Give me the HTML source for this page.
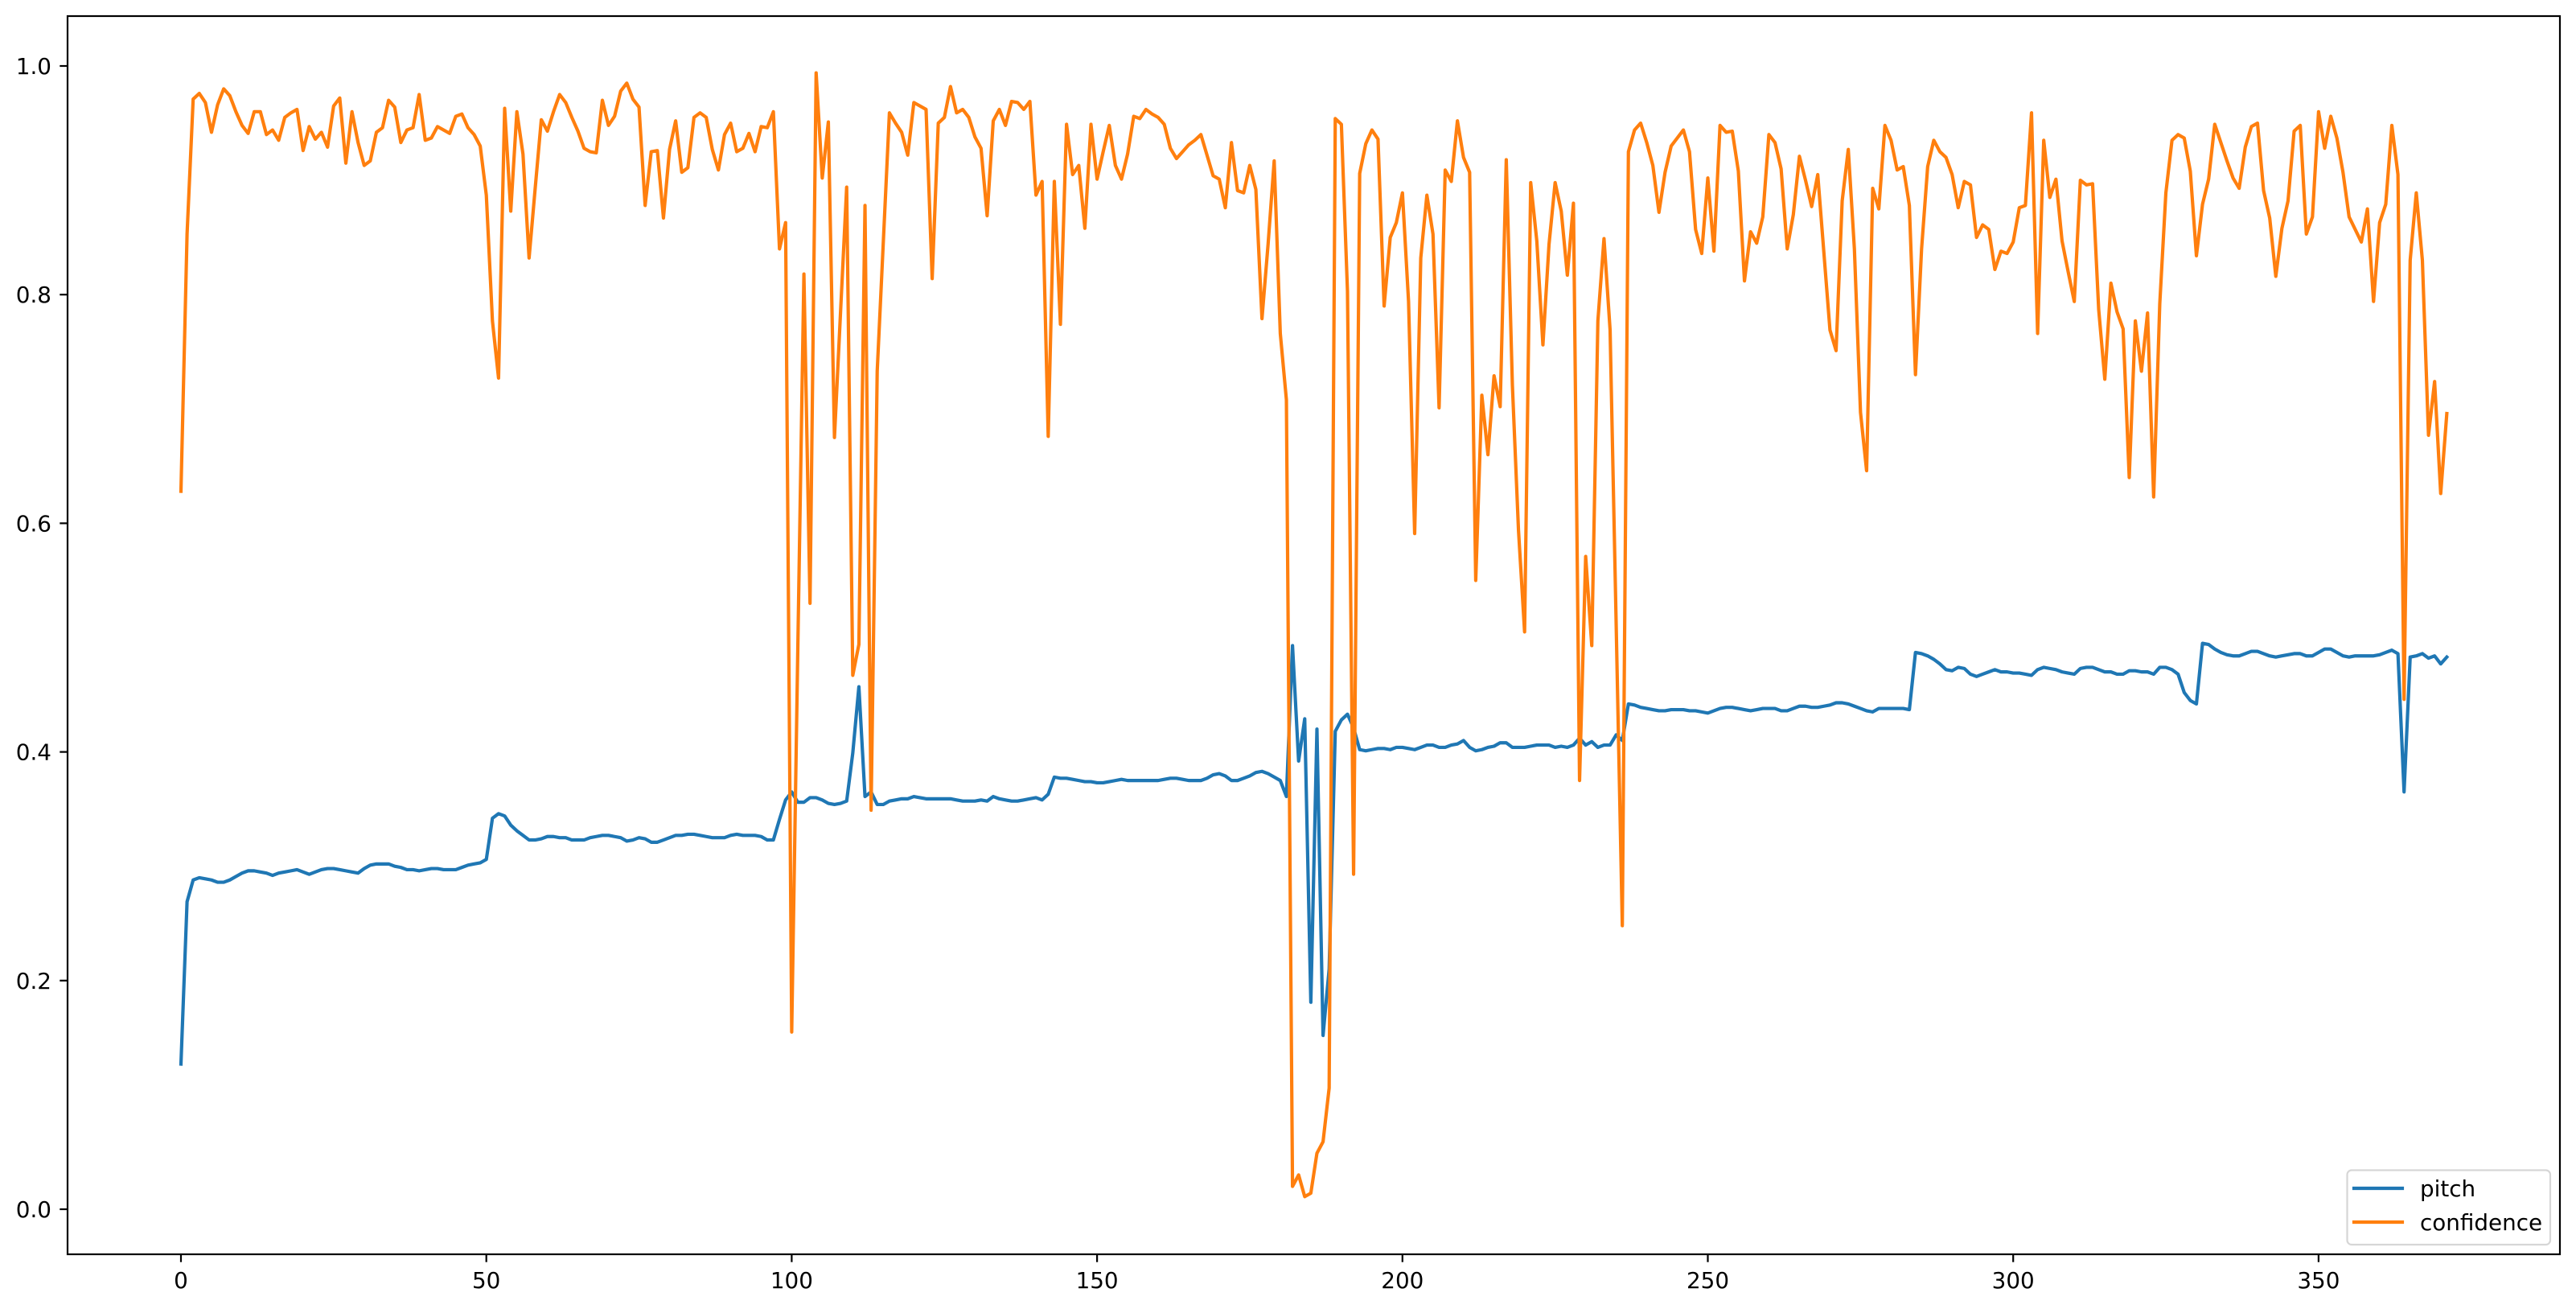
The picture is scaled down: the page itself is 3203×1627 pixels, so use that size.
<!DOCTYPE html>
<html><head><meta charset="utf-8"><style>
html,body{margin:0;padding:0;background:#fff;}
svg{display:block;}
text{font-family:"DejaVu Sans","Liberation Sans",sans-serif;font-size:27.8px;fill:#000;}
</style></head><body>
<svg width="3203" height="1627" viewBox="0 0 3203 1627" xmlns="http://www.w3.org/2000/svg">
<rect x="0" y="0" width="3203" height="1627" fill="#fff"/>
<g transform="matrix(7.594 0 0 -1421 225 1503)" fill="none" stroke-linejoin="round" stroke-linecap="square">
<polyline vector-effect="non-scaling-stroke" stroke="#1f77b4" stroke-width="4.17" points="0,0.127 1,0.269 2,0.288 3,0.290 4,0.289 5,0.288 6,0.286 7,0.286 8,0.288 9,0.291 10,0.294 11,0.296 12,0.296 13,0.295 14,0.294 15,0.292 16,0.294 17,0.295 18,0.296 19,0.297 20,0.295 21,0.293 22,0.295 23,0.297 24,0.298 25,0.298 26,0.297 27,0.296 28,0.295 29,0.294 30,0.298 31,0.301 32,0.302 33,0.302 34,0.302 35,0.300 36,0.299 37,0.297 38,0.297 39,0.296 40,0.297 41,0.298 42,0.298 43,0.297 44,0.297 45,0.297 46,0.299 47,0.301 48,0.302 49,0.303 50,0.306 51,0.342 52,0.346 53,0.344 54,0.336 55,0.331 56,0.327 57,0.323 58,0.323 59,0.324 60,0.326 61,0.326 62,0.325 63,0.325 64,0.323 65,0.323 66,0.323 67,0.325 68,0.326 69,0.327 70,0.327 71,0.326 72,0.325 73,0.322 74,0.323 75,0.325 76,0.324 77,0.321 78,0.321 79,0.323 80,0.325 81,0.327 82,0.327 83,0.328 84,0.328 85,0.327 86,0.326 87,0.325 88,0.325 89,0.325 90,0.327 91,0.328 92,0.327 93,0.327 94,0.327 95,0.326 96,0.323 97,0.323 98,0.341 99,0.358 100,0.365 101,0.356 102,0.356 103,0.360 104,0.360 105,0.358 106,0.355 107,0.354 108,0.355 109,0.357 110,0.399 111,0.457 112,0.361 113,0.365 114,0.354 115,0.354 116,0.357 117,0.358 118,0.359 119,0.359 120,0.361 121,0.360 122,0.359 123,0.359 124,0.359 125,0.359 126,0.359 127,0.358 128,0.357 129,0.357 130,0.357 131,0.358 132,0.357 133,0.361 134,0.359 135,0.358 136,0.357 137,0.357 138,0.358 139,0.359 140,0.360 141,0.358 142,0.363 143,0.378 144,0.377 145,0.377 146,0.376 147,0.375 148,0.374 149,0.374 150,0.373 151,0.373 152,0.374 153,0.375 154,0.376 155,0.375 156,0.375 157,0.375 158,0.375 159,0.375 160,0.375 161,0.376 162,0.377 163,0.377 164,0.376 165,0.375 166,0.375 167,0.375 168,0.377 169,0.380 170,0.381 171,0.379 172,0.375 173,0.375 174,0.377 175,0.379 176,0.382 177,0.383 178,0.381 179,0.378 180,0.375 181,0.361 182,0.493 183,0.392 184,0.429 185,0.181 186,0.420 187,0.152 188,0.21 189,0.418 190,0.428 191,0.433 192,0.421 193,0.402 194,0.401 195,0.402 196,0.403 197,0.403 198,0.402 199,0.404 200,0.404 201,0.403 202,0.402 203,0.404 204,0.406 205,0.406 206,0.404 207,0.404 208,0.406 209,0.407 210,0.410 211,0.404 212,0.401 213,0.402 214,0.404 215,0.405 216,0.408 217,0.408 218,0.404 219,0.404 220,0.404 221,0.405 222,0.406 223,0.406 224,0.406 225,0.404 226,0.405 227,0.404 228,0.406 229,0.412 230,0.406 231,0.409 232,0.404 233,0.406 234,0.406 235,0.415 236,0.410 237,0.442 238,0.441 239,0.439 240,0.438 241,0.437 242,0.436 243,0.436 244,0.437 245,0.437 246,0.437 247,0.436 248,0.436 249,0.435 250,0.434 251,0.436 252,0.438 253,0.439 254,0.439 255,0.438 256,0.437 257,0.436 258,0.437 259,0.438 260,0.438 261,0.438 262,0.436 263,0.436 264,0.438 265,0.440 266,0.440 267,0.439 268,0.439 269,0.440 270,0.441 271,0.443 272,0.443 273,0.442 274,0.440 275,0.438 276,0.436 277,0.435 278,0.438 279,0.438 280,0.438 281,0.438 282,0.438 283,0.437 284,0.487 285,0.486 286,0.484 287,0.481 288,0.477 289,0.472 290,0.471 291,0.474 292,0.473 293,0.468 294,0.466 295,0.468 296,0.470 297,0.472 298,0.470 299,0.470 300,0.469 301,0.469 302,0.468 303,0.467 304,0.472 305,0.474 306,0.473 307,0.472 308,0.470 309,0.469 310,0.468 311,0.473 312,0.474 313,0.474 314,0.472 315,0.470 316,0.470 317,0.468 318,0.468 319,0.471 320,0.471 321,0.470 322,0.470 323,0.468 324,0.474 325,0.474 326,0.472 327,0.468 328,0.452 329,0.445 330,0.442 331,0.495 332,0.494 333,0.490 334,0.487 335,0.485 336,0.484 337,0.484 338,0.486 339,0.488 340,0.488 341,0.486 342,0.484 343,0.483 344,0.484 345,0.485 346,0.486 347,0.486 348,0.484 349,0.484 350,0.487 351,0.490 352,0.490 353,0.487 354,0.484 355,0.483 356,0.484 357,0.484 358,0.484 359,0.484 360,0.485 361,0.487 362,0.489 363,0.486 364,0.365 365,0.483 366,0.484 367,0.486 368,0.482 369,0.484 370,0.477 371,0.483"/>
<polyline vector-effect="non-scaling-stroke" stroke="#ff7f0e" stroke-width="4.17" points="0,0.628 1,0.853 2,0.971 3,0.976 4,0.968 5,0.942 6,0.966 7,0.980 8,0.974 9,0.960 10,0.948 11,0.941 12,0.960 13,0.960 14,0.940 15,0.944 16,0.935 17,0.955 18,0.959 19,0.962 20,0.926 21,0.947 22,0.936 23,0.942 24,0.929 25,0.965 26,0.972 27,0.915 28,0.960 29,0.933 30,0.913 31,0.917 32,0.942 33,0.946 34,0.970 35,0.964 36,0.933 37,0.944 38,0.946 39,0.975 40,0.935 41,0.937 42,0.947 43,0.944 44,0.941 45,0.956 46,0.958 47,0.946 48,0.940 49,0.930 50,0.887 51,0.777 52,0.727 53,0.963 54,0.873 55,0.960 56,0.923 57,0.832 58,0.893 59,0.953 60,0.943 61,0.960 62,0.975 63,0.968 64,0.955 65,0.943 66,0.928 67,0.925 68,0.924 69,0.970 70,0.948 71,0.956 72,0.978 73,0.985 74,0.971 75,0.964 76,0.878 77,0.925 78,0.926 79,0.867 80,0.927 81,0.952 82,0.907 83,0.911 84,0.955 85,0.959 86,0.955 87,0.927 88,0.909 89,0.940 90,0.950 91,0.925 92,0.928 93,0.941 94,0.925 95,0.947 96,0.946 97,0.960 98,0.840 99,0.863 100,0.155 101,0.49 102,0.818 103,0.530 104,0.994 105,0.902 106,0.951 107,0.675 108,0.785 109,0.894 110,0.467 111,0.494 112,0.878 113,0.349 114,0.733 115,0.846 116,0.959 117,0.950 118,0.942 119,0.922 120,0.968 121,0.965 122,0.962 123,0.814 124,0.950 125,0.955 126,0.982 127,0.959 128,0.962 129,0.955 130,0.938 131,0.928 132,0.869 133,0.952 134,0.962 135,0.948 136,0.969 137,0.968 138,0.962 139,0.969 140,0.887 141,0.899 142,0.676 143,0.899 144,0.774 145,0.949 146,0.905 147,0.913 148,0.858 149,0.949 150,0.901 151,0.925 152,0.948 153,0.913 154,0.901 155,0.923 156,0.956 157,0.954 158,0.962 159,0.958 160,0.955 161,0.949 162,0.928 163,0.919 164,0.925 165,0.931 166,0.935 167,0.940 168,0.922 169,0.904 170,0.901 171,0.876 172,0.933 173,0.891 174,0.889 175,0.913 176,0.892 177,0.779 178,0.844 179,0.917 180,0.766 181,0.708 182,0.020 183,0.030 184,0.011 185,0.014 186,0.049 187,0.059 188,0.106 189,0.954 190,0.949 191,0.803 192,0.293 193,0.906 194,0.932 195,0.944 196,0.936 197,0.790 198,0.850 199,0.863 200,0.889 201,0.794 202,0.591 203,0.832 204,0.887 205,0.853 206,0.701 207,0.909 208,0.899 209,0.952 210,0.920 211,0.907 212,0.550 213,0.712 214,0.660 215,0.729 216,0.702 217,0.918 218,0.721 219,0.594 220,0.505 221,0.898 222,0.847 223,0.756 224,0.844 225,0.898 226,0.873 227,0.817 228,0.880 229,0.375 230,0.571 231,0.493 232,0.777 233,0.849 234,0.769 235,0.51 236,0.248 237,0.925 238,0.944 239,0.950 240,0.933 241,0.913 242,0.872 243,0.907 244,0.930 245,0.937 246,0.944 247,0.925 248,0.857 249,0.836 250,0.902 251,0.838 252,0.948 253,0.942 254,0.943 255,0.908 256,0.812 257,0.855 258,0.845 259,0.868 260,0.940 261,0.933 262,0.910 263,0.840 264,0.870 265,0.921 266,0.900 267,0.877 268,0.905 269,0.837 270,0.769 271,0.751 272,0.882 273,0.927 274,0.840 275,0.697 276,0.646 277,0.893 278,0.875 279,0.948 280,0.935 281,0.909 282,0.912 283,0.878 284,0.730 285,0.840 286,0.912 287,0.935 288,0.925 289,0.920 290,0.905 291,0.876 292,0.899 293,0.896 294,0.850 295,0.861 296,0.857 297,0.822 298,0.838 299,0.836 300,0.846 301,0.876 302,0.878 303,0.959 304,0.766 305,0.935 306,0.885 307,0.901 308,0.847 309,0.820 310,0.794 311,0.900 312,0.896 313,0.897 314,0.787 315,0.726 316,0.810 317,0.785 318,0.770 319,0.640 320,0.777 321,0.733 322,0.784 323,0.623 324,0.792 325,0.889 326,0.935 327,0.940 328,0.937 329,0.908 330,0.834 331,0.879 332,0.901 333,0.949 334,0.933 335,0.917 336,0.902 337,0.893 338,0.929 339,0.947 340,0.950 341,0.891 342,0.867 343,0.816 344,0.858 345,0.882 346,0.943 347,0.948 348,0.853 349,0.868 350,0.960 351,0.928 352,0.956 353,0.937 354,0.907 355,0.868 356,0.857 357,0.846 358,0.875 359,0.794 360,0.863 361,0.879 362,0.948 363,0.905 364,0.446 365,0.830 366,0.889 367,0.830 368,0.677 369,0.724 370,0.626 371,0.696"/>
</g>
<!-- spines -->
<rect x="84" y="20" width="3099" height="1539" fill="none" stroke="#000" stroke-width="2.2"/>
<!-- y ticks -->
<g stroke="#000" stroke-width="2.2">
<line x1="74.3" y1="1503" x2="84" y2="1503"/>
<line x1="74.3" y1="1218.8" x2="84" y2="1218.8"/>
<line x1="74.3" y1="934.6" x2="84" y2="934.6"/>
<line x1="74.3" y1="650.4" x2="84" y2="650.4"/>
<line x1="74.3" y1="366.2" x2="84" y2="366.2"/>
<line x1="74.3" y1="82" x2="84" y2="82"/>
<line x1="225" y1="1559" x2="225" y2="1568.7"/>
<line x1="604.7" y1="1559" x2="604.7" y2="1568.7"/>
<line x1="984.4" y1="1559" x2="984.4" y2="1568.7"/>
<line x1="1364.1" y1="1559" x2="1364.1" y2="1568.7"/>
<line x1="1743.8" y1="1559" x2="1743.8" y2="1568.7"/>
<line x1="2123.5" y1="1559" x2="2123.5" y2="1568.7"/>
<line x1="2503.2" y1="1559" x2="2503.2" y2="1568.7"/>
<line x1="2882.9" y1="1559" x2="2882.9" y2="1568.7"/>
</g>
<g text-anchor="end">
<text x="64" y="1513">0.0</text>
<text x="64" y="1228.8">0.2</text>
<text x="64" y="944.6">0.4</text>
<text x="64" y="660.4">0.6</text>
<text x="64" y="376.2">0.8</text>
<text x="64" y="92">1.0</text>
</g>
<g text-anchor="middle">
<text x="225" y="1601">0</text>
<text x="604.7" y="1601">50</text>
<text x="984.4" y="1601">100</text>
<text x="1364.1" y="1601">150</text>
<text x="1743.8" y="1601">200</text>
<text x="2123.5" y="1601">250</text>
<text x="2503.2" y="1601">300</text>
<text x="2882.9" y="1601">350</text>
</g>
<!-- legend -->
<rect x="2918.5" y="1454.5" width="252.5" height="92.5" rx="5.5" ry="5.5" fill="#fff" fill-opacity="0.8" stroke="#d6d6d6" stroke-width="2.2"/>
<line x1="2927" y1="1477" x2="2987" y2="1477" stroke="#1f77b4" stroke-width="4.17" stroke-linecap="square"/>
<line x1="2927" y1="1519" x2="2987" y2="1519" stroke="#ff7f0e" stroke-width="4.17" stroke-linecap="square"/>
<text x="3009" y="1487">pitch</text>
<text x="3009" y="1529">confidence</text>
</svg>
</body></html>
